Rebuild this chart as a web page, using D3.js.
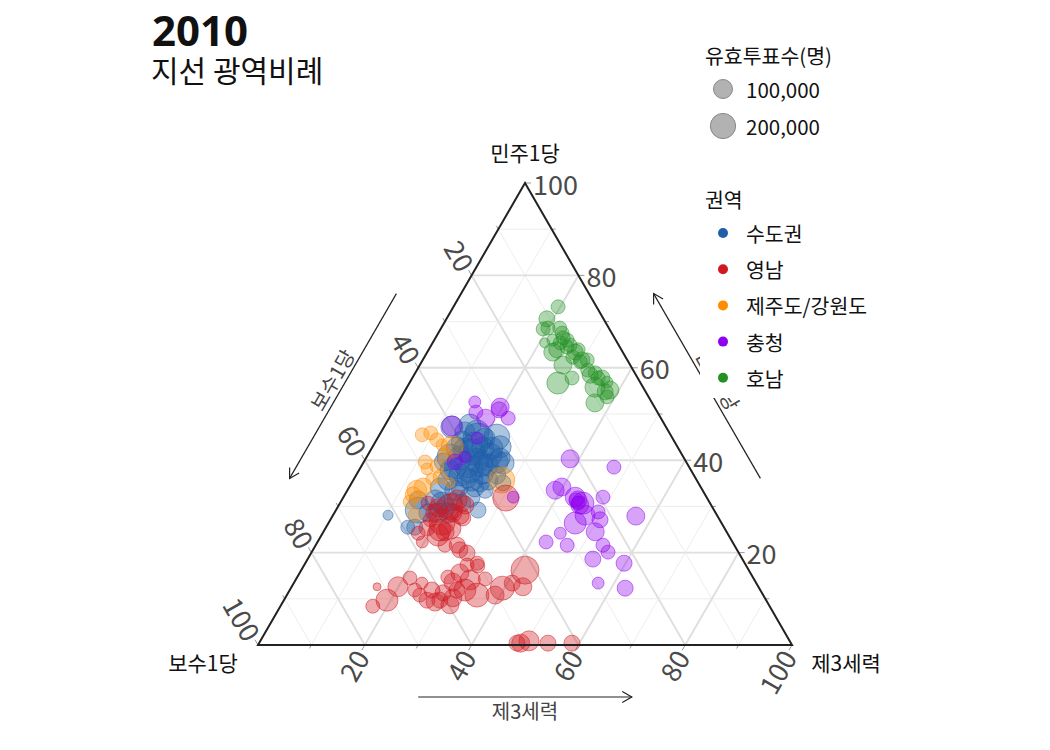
<!DOCTYPE html>
<html>
<head>
<meta charset="utf-8">
<script src="https://cdn.jsdelivr.net/npm/d3@7"></script>
<style>
  html, body { margin: 0; padding: 0; background: #fff; }
  svg { display: block; font-family: "Noto Sans CJK KR", "Noto Sans", sans-serif; }
</style>
</head>
<body>
<svg id="chart" width="1050" height="750"></svg>
<script>
// ---- data: [민주1당 %, 보수1당 %, 제3세력 %, 유효투표수] ----
const regionNames = ["수도권", "영남", "제주도/강원도", "충청", "호남"];
const regionColors = ["#1f5fa8", "#cf1820", "#ff8c00", "#8f00ef", "#229122"];
const axisNames = ["민주1당", "보수1당", "제3세력"];
const tickValues = [20, 40, 60, 80, 100];
const sizeLegendValues = [100000, 200000];

const sudogwon = [
  [47.6,36.5,15.9,144000],[45.0,32.8,22.2,215000],[42.9,33.2,23.9,144000],[44.8,35.1,20.1,114000],
  [42.6,41.4,16.0,144000],[40.7,43.7,15.6,215000],[41.8,39.0,19.2,215000],[42.6,36.6,20.8,144000],
  [39.0,41.4,19.6,215000],[39.6,35.4,25.0,144000],[40.5,34.4,25.1,114000],[37.2,39.4,23.4,144000],
  [36.8,36.9,26.3,87000],[36.8,43.8,19.4,144000],[37.9,45.1,17.0,114000],[35.7,46.6,17.7,114000],
  [36.1,42.8,21.1,114000],[34.0,42.4,23.6,87000],[33.5,40.7,25.8,64000],[39.4,34.4,26.2,144000],
  [39.6,45.5,14.9,87000],[46.1,35.9,18.0,178000],[46.1,38.2,15.7,114000],[43.9,39.8,16.3,144000],
  [40.0,39.0,21.0,178000],[39.0,37.6,23.4,144000],[35.7,39.1,25.2,114000],[35.7,42.1,22.2,144000],
  [34.2,45.1,20.7,87000],[35.1,36.6,28.3,64000],[44.8,36.4,18.8,300000],[47.2,40.1,12.7,144000],
  [40.0,37.9,22.1,114000],[35.3,40.8,23.9,114000],[42.2,40.1,17.7,178000],[43.3,37.7,19.0,215000],
  [41.1,36.0,22.9,178000],[37.9,41.4,20.7,215000],[38.3,44.0,17.7,144000],[39.0,38.9,22.1,178000],
  [42.6,34.9,22.5,144000],[40.5,41.9,17.6,178000],[29.2,55.4,15.4,215000],[25.5,57.9,16.6,64000],
  [28.6,53.9,17.5,87000],[30.7,50.2,19.1,144000],[28.6,50.1,21.3,114000],[31.0,48.0,21.0,87000],
  [30.7,46.5,22.8,87000],[29.2,44.2,26.6,64000],[29.7,50.1,20.2,114000],[28.6,52.0,19.4,114000],
  [31.4,54.3,14.3,87000],[28.1,61.6,10.3,16000],[25.5,59.2,15.3,44000],[31.4,51.1,17.5,114000],
  [33.5,46.4,20.1,114000],[32.0,44.3,23.7,114000],[34.0,48.9,17.1,114000]
];
const yeongnam = [
  [29.9,49.1,21.0,215000],[31.4,47.0,21.6,114000],[30.3,46.1,23.6,87000],[29.7,51.4,18.9,87000],
  [30.7,52.8,16.5,44000],[26.6,52.2,21.2,215000],[24.9,53.5,21.6,144000],[23.8,54.4,21.8,144000],
  [24.5,52.7,22.8,87000],[25.3,51.4,23.3,144000],[25.3,55.7,19.0,64000],[24.2,57.9,17.9,44000],
  [22.3,58.1,19.6,28000],[28.1,48.1,23.8,87000],[27.5,47.9,24.6,64000],[31.8,37.7,30.5,215000],
  [21.6,51.9,26.5,64000],[19.9,50.9,29.2,64000],[17.7,50.1,32.2,44000],[28.6,52.6,18.8,87000],
  [28.6,49.2,22.2,87000],[17.3,52.2,30.5,44000],[20.6,51.9,27.5,64000],[17.1,50.3,32.6,44000],
  [16.2,41.9,41.9,256000],[12.6,44.1,43.3,87000],[12.3,48.1,39.6,178000],[10.8,50.2,39.0,87000],
  [14.3,50.3,35.4,44000],[10.8,53.6,35.6,178000],[11.9,55.3,32.8,144000],[13.6,56.7,29.7,87000],
  [15.6,54.4,30.0,87000],[8.7,59.7,31.6,87000],[10.2,58.4,31.4,87000],[11.3,59.7,29.0,64000],
  [9.3,62.2,28.5,87000],[9.7,63.5,26.8,64000],[10.8,64.3,24.9,44000],[11.9,64.7,23.4,44000],
  [14.5,64.3,21.2,44000],[13.4,62.6,24.0,28000],[12.6,67.5,19.9,114000],[9.7,71.0,19.3,144000],
  [12.6,71.4,16.0,7000],[8.4,74.3,17.3,44000],[14.7,57.1,28.2,44000],[9.7,61.1,29.2,64000],
  [14.1,53.2,32.7,114000],[11.9,56.8,31.3,64000],[11.9,61.5,26.6,64000],[27.1,54.2,18.7,44000],
  [13.4,45.7,40.9,64000],[21.6,54.2,24.2,44000],
  [0.4,51.3,48.3,64000],[0.4,50.6,49.0,87000],[0.9,48.8,50.3,114000],[0.4,45.5,54.1,64000],
  [0.4,41.0,58.6,64000]
];
const jejuGangwon = [
  [45.9,44.7,9.4,44000],[44.4,44.3,11.3,44000],[43.3,43.9,12.8,28000],[42.9,42.2,14.9,144000],
  [39.6,48.9,11.5,44000],[38.1,49.3,12.6,28000],[38.7,47.1,14.2,44000],[36.4,47.7,15.9,44000],
  [35.7,36.5,27.8,215000],[33.5,53.5,13.0,114000],[34.2,52.0,13.8,87000],[32.5,54.7,12.8,64000],
  [28.1,56.5,15.4,44000],[35.1,46.5,18.4,16000],[31.0,56.0,13.0,44000],[45.5,46.5,8.0,44000],
  [35.9,49.5,14.6,28000],[41.1,44.4,14.5,44000]
];
const chungcheong = [
  [40.3,21.4,38.3,87000],[38.5,14.1,47.4,44000],[33.5,27.6,38.9,87000],[34.2,26.0,39.8,87000],
  [32.0,24.6,43.4,114000],[31.4,24.4,44.2,87000],[30.3,24.6,45.1,87000],[30.7,23.8,45.5,144000],
  [32.0,19.4,48.6,44000],[28.8,21.9,49.3,44000],[28.1,24.7,47.2,114000],[26.4,27.4,46.2,144000],
  [27.1,22.4,50.5,64000],[27.9,15.3,56.8,87000],[24.5,24.6,50.9,87000],[24.2,31.3,44.5,28000],
  [22.3,34.9,42.8,44000],[21.6,31.3,47.1,44000],[21.6,24.6,53.8,44000],[20.1,24.4,55.5,44000],
  [18.6,28.0,53.4,64000],[17.7,22.6,59.7,64000],[13.4,29.6,57.0,28000],[12.3,25.1,62.6,64000],
  [31.4,24.7,43.9,44000],[30.7,24.7,44.6,44000],
  [52.6,33.1,14.3,28000],[50.4,34.0,15.6,44000],[51.5,28.9,19.6,87000],[50.9,29.4,19.7,64000],
  [49.1,32.8,18.1,87000],[49.1,28.6,22.3,44000],[47.4,40.0,12.6,114000],[44.8,36.6,18.6,28000],
  [40.7,40.9,18.4,28000],[39.6,43.3,17.1,64000],[32.0,36.2,31.8,28000]
];
const honam = [
  [73.2,7.2,19.6,44000],[70.6,10.6,18.8,64000],[68.4,12.4,19.2,44000],[68.6,9.2,22.2,44000],
  [67.5,9.3,23.2,44000],[66.0,9.1,24.9,44000],[65.4,13.6,21.0,16000],[65.4,10.7,23.9,44000],
  [63.4,13.1,23.5,87000],[60.6,12.6,26.8,87000],[63.4,8.9,27.7,64000],[62.3,9.9,27.8,44000],
  [61.7,8.5,29.8,64000],[61.7,7.5,30.8,44000],[57.8,12.3,29.9,44000],[56.7,15.5,27.8,144000],
  [58.4,8.6,33.0,64000],[58.9,7.4,33.7,44000],[57.8,6.7,35.5,64000],[55.8,9.0,35.2,114000],
  [56.9,6.2,36.9,28000],[55.2,6.5,38.3,87000],[54.8,7.6,37.6,64000],[52.4,10.7,36.9,87000],
  [53.7,7.8,38.5,44000],[64.5,9.9,25.6,44000],[59.5,8.5,32.0,44000],[68.6,11.4,20.0,44000],
  [63.9,12.1,24.0,64000],[63.9,8.1,28.0,44000],[57.8,7.4,34.8,44000],[66.0,11.8,22.2,28000],
  [66.5,9.6,23.9,44000],[64.9,9.1,26.0,44000],[61.3,9.0,29.7,44000]
];
// drawing order of regions (index into regionNames)
const regionData = [
  {region: 0, rows: sudogwon},
  {region: 2, rows: jejuGangwon},
  {region: 1, rows: yeongnam},
  {region: 3, rows: chungcheong},
  {region: 4, rows: honam}
];

// ---- layout ----
const svg = d3.select("#chart");
const xS = d3.scaleLinear().domain([0, 100]).range([258, 792]);
const yS = d3.scaleLinear().domain([0, 100]).range([645, 183]);
const rS = d3.scaleSqrt().domain([0, 300000]).range([2, 15]);
// project ternary (minju a, third c) -> pixel
function P(a, c) { return [xS(c + a / 2), yS(a)]; }

// ---- title ----
svg.append("text").attr("x", 152).attr("y", 46).attr("font-size", 42).attr("font-weight", 700)
  .attr("font-family", "'Noto Sans', 'Noto Sans CJK KR', sans-serif")
  .attr("fill", "#111").text("2010");
svg.append("text").attr("x", 151).attr("y", 82).attr("font-size", 30).attr("fill", "#111").text("지선 광역비례");

// ---- grid ----
const grid = svg.append("g");
for (let v = 10; v < 100; v += 10) {
  const major = v % 20 === 0;
  const segs = [
    [P(v, 0), P(v, 100 - v)],             // constant 민주
    [P(100 - v, 0), P(0, 100 - v)],       // constant 보수
    [P(0, v), P(100 - v, v)]              // constant 제3
  ];
  segs.forEach(s => grid.append("line")
    .attr("x1", s[0][0]).attr("y1", s[0][1]).attr("x2", s[1][0]).attr("y2", s[1][1])
    .attr("stroke", major ? "#dfdfdf" : "#ebebeb").attr("stroke-width", major ? 1.9 : 0.9));
}

// ---- ticks ----
const dirs = {
  right: [1, 0],
  left: [-0.5, -0.866],
  bottom: [-0.5, 0.866]
};
const tickG = svg.append("g");
for (let v = 10; v <= 100; v += 10) {
  const pts = [
    {p: P(v, 100 - v), d: dirs.right},
    {p: P(100 - v, 0), d: dirs.left},
    {p: P(0, v), d: dirs.bottom}
  ];
  pts.forEach(t => tickG.append("line")
    .attr("x1", t.p[0]).attr("y1", t.p[1])
    .attr("x2", t.p[0] + t.d[0] * (v % 20 === 0 ? 6 : 4)).attr("y2", t.p[1] + t.d[1] * (v % 20 === 0 ? 6 : 4))
    .attr("stroke", "#999").attr("stroke-width", 1));
}
const tickFont = 27;
tickValues.forEach(v => {
  const pr = P(v, 100 - v);
  tickG.append("text").attr("x", pr[0] + 8).attr("y", pr[1]).attr("dominant-baseline", "central")
    .attr("font-size", tickFont).attr("fill", "#4a4a4a").text(v);
  const pl = P(100 - v, 0);
  const lx = pl[0] + dirs.left[0] * 8, ly = pl[1] + dirs.left[1] * 8;
  tickG.append("text").attr("transform", `translate(${lx},${ly}) rotate(60)`)
    .attr("text-anchor", "end").attr("dominant-baseline", "central")
    .attr("font-size", tickFont).attr("fill", "#4a4a4a").text(v);
  const pb = P(0, v);
  const bx = pb[0] + dirs.bottom[0] * 8, by = pb[1] + dirs.bottom[1] * 8;
  tickG.append("text").attr("transform", `translate(${bx},${by}) rotate(-60)`)
    .attr("text-anchor", "end").attr("dominant-baseline", "central")
    .attr("font-size", tickFont).attr("fill", "#4a4a4a").text(v);
});

// ---- points ----
const ptsG = svg.append("g");
regionData.forEach(g => {
  const col = regionColors[g.region];
  ptsG.selectAll(null).data(g.rows).enter().append("circle")
    .attr("cx", d => { const s = d[0] + d[1] + d[2]; return P(d[0] * 100 / s, d[2] * 100 / s)[0]; })
    .attr("cy", d => { const s = d[0] + d[1] + d[2]; return P(d[0] * 100 / s, d[2] * 100 / s)[1]; })
    .attr("r", d => rS(d[3]))
    .attr("fill", col).attr("fill-opacity", 0.36)
    .attr("stroke", col).attr("stroke-opacity", 0.5).attr("stroke-width", 1);
});

// ---- triangle border ----
const tri = [P(100, 0), P(0, 0), P(0, 100)];
svg.append("path").attr("d", "M" + tri.map(p => p.join(",")).join("L") + "Z")
  .attr("fill", "none").attr("stroke", "#222").attr("stroke-width", 2).attr("stroke-linejoin", "miter");

// ---- vertex titles ----
svg.append("text").attr("x", 525).attr("y", 161).attr("text-anchor", "middle").attr("font-size", 21)
  .attr("fill", "#111").text(axisNames[0]);
svg.append("text").attr("x", 203).attr("y", 671).attr("text-anchor", "middle").attr("font-size", 21)
  .attr("fill", "#111").text(axisNames[1]);
svg.append("text").attr("x", 846).attr("y", 671).attr("text-anchor", "middle").attr("font-size", 21)
  .attr("fill", "#111").text(axisNames[2]);

// ---- direction arrows ----
function arrow(p0, p1, off, label, rot, labOff) {
  const a = [p0[0] + off[0], p0[1] + off[1]], b = [p1[0] + off[0], p1[1] + off[1]];
  const g = svg.append("g");
  g.append("line").attr("x1", a[0]).attr("y1", a[1]).attr("x2", b[0]).attr("y2", b[1])
    .attr("stroke", "#222").attr("stroke-width", 1.2);
  const ang = Math.atan2(b[1] - a[1], b[0] - a[0]);
  const hl = 11, ha = Math.PI / 6;
  const h1 = [b[0] - hl * Math.cos(ang - ha), b[1] - hl * Math.sin(ang - ha)];
  const h2 = [b[0] - hl * Math.cos(ang + ha), b[1] - hl * Math.sin(ang + ha)];
  g.append("path").attr("d", `M${h1}L${b}L${h2}`).attr("fill", "none").attr("stroke", "#222").attr("stroke-width", 1.2);
  const m = [(a[0] + b[0]) / 2 + labOff[0], (a[1] + b[1]) / 2 + labOff[1]];
  g.append("text").attr("transform", `translate(${m[0]},${m[1]}) rotate(${rot})`)
    .attr("text-anchor", "middle").attr("dominant-baseline", "central")
    .attr("font-size", 20).attr("fill", "#444").text(label);
}
const offL = 56, offLab = 13;
arrow(P(70, 0), P(30, 0), [-0.866 * offL, -0.5 * offL], axisNames[1], -60, [-0.866 * offLab, -0.5 * offLab]);
arrow(P(0, 30), P(0, 70), [0, 52], axisNames[2], 0, [0, offLab]);
arrow(P(30, 70), P(70, 30), [0.866 * offL, -0.5 * offL], axisNames[0], 60, [0.866 * offLab, -0.5 * offLab]);

// ---- legends ----
const lg = svg.append("g");
const legFont = 20.5;
lg.append("rect").attr("x", 700).attr("y", 30).attr("width", 200).attr("height", 368).attr("fill", "#fff");
lg.append("text").attr("x", 705).attr("y", 64).attr("font-size", legFont).attr("fill", "#111").text("유효투표수(명)");
sizeLegendValues.forEach((v, i) => {
  const cy = 89 + i * 37;
  lg.append("circle").attr("cx", 723).attr("cy", cy).attr("r", rS(v))
    .attr("fill", "#aaa").attr("fill-opacity", 0.9).attr("stroke", "#888").attr("stroke-width", 1);
  lg.append("text").attr("x", 746).attr("y", cy).attr("dominant-baseline", "central")
    .attr("font-size", legFont).attr("fill", "#111").text(d3.format(",")(v));
});
lg.append("text").attr("x", 705).attr("y", 208).attr("font-size", legFont).attr("fill", "#111").text("권역");
regionNames.forEach((n, i) => {
  const cy = 233 + i * 36.2;
  lg.append("circle").attr("cx", 723).attr("cy", cy).attr("r", 5).attr("fill", regionColors[i]);
  lg.append("text").attr("x", 746).attr("y", cy).attr("dominant-baseline", "central")
    .attr("font-size", legFont).attr("fill", "#111").text(n);
});
</script>
</body>
</html>
